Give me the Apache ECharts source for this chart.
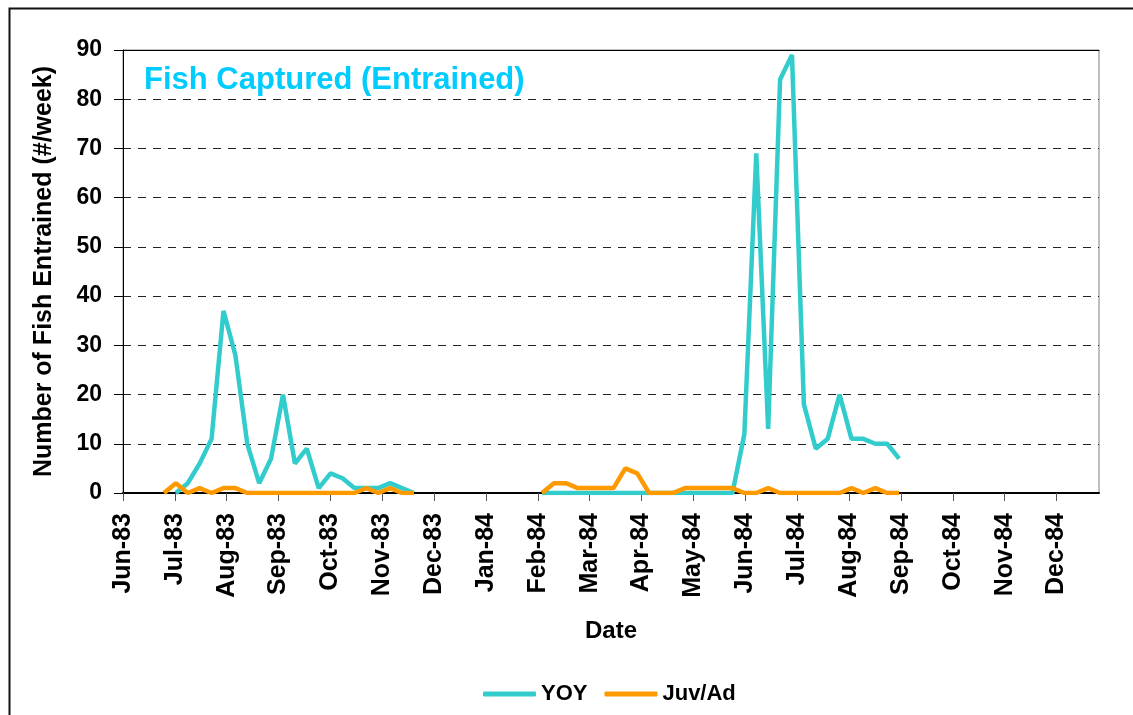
<!DOCTYPE html>
<html>
<head>
<meta charset="utf-8">
<script src="https://cdn.jsdelivr.net/npm/echarts@6/dist/echarts.min.js"></script>
<style>
  html, body { margin: 0; padding: 0; background: #fff; }
  #chart { width: 1133px; height: 715px; }
</style>
</head>
<body>
<div id="chart"></div>
<script>
const monthLabels = ['Jun-83', 'Jul-83', 'Aug-83', 'Sep-83', 'Oct-83', 'Nov-83', 'Dec-83',
  'Jan-84', 'Feb-84', 'Mar-84', 'Apr-84', 'May-84', 'Jun-84', 'Jul-84', 'Aug-84',
  'Sep-84', 'Oct-84', 'Nov-84', 'Dec-84']

// first sampled week of each season, in months after Jun-83
const start83 = 0.79
const start84 = 8.08
const weekStep = 7 / 30.5

// 1983 season (YOY first reported one week after Juv/Ad)
const juv83 = [0, 2, 0, 1, 0, 1, 1, 0, 0, 0, 0, 0, 0, 0, 0, 0, 0, 1, 0, 1, 0, 0]
const yoy83 = [0, 2, 6, 11, 37, 28, 10, 2, 7, 20, 6, 9, 1, 4, 3, 1, 1, 1, 2, 1, 0]
// 1984 season
const juv84 = [0, 2, 2, 1, 1, 1, 1, 5, 4, 0, 0, 0, 1, 1, 1, 1, 1, 0, 0, 1, 0, 0, 0, 0, 0, 0, 1, 0, 1, 0, 0]
const yoy84 = [0, 0, 0, 0, 0, 0, 0, 0, 0, 0, 0, 0, 0, 0, 0, 0, 0, 12, 69, 13, 84, 89, 18, 9, 11, 20, 11, 11, 10, 10, 7]

const font = 'Liberation Sans, Arial, sans-serif'

function weeks(start, values, skip) {
  return values.map((v, i) => [start + (i + skip) * weekStep, v])
}

function seasons(a, b) {
  // '-' breaks the line between the two seasons
  return a.concat([[7, '-']], b)
}

const chart = echarts.init(document.getElementById('chart'))

chart.setOption({
  backgroundColor: '#fff',
  animation: false,
  textStyle: { fontFamily: font },
  title: {
    text: 'Fish Captured (Entrained)',
    left: 139,
    top: 60,
    textStyle: { color: '#00CCFF', fontSize: 31, fontWeight: 'bold', fontFamily: font }
  },
  legend: {
    left: 478,
    top: 678,
    icon: 'roundRect',
    itemWidth: 53,
    itemHeight: 5,
    itemGap: 17,
    textStyle: { color: '#000', fontSize: 22, fontWeight: 'bold', fontFamily: font },
    data: ['YOY', 'Juv/Ad']
  },
  grid: {
    left: 123,
    top: 50,
    width: 976,
    height: 443,
    show: true,
    borderColor: '#808080',
    borderWidth: 1
  },
  graphic: [{
    type: 'rect',
    left: 7,
    top: 6,
    shape: { x: 0, y: 0, width: 1140, height: 720 },
    style: { fill: 'none', stroke: '#111', lineWidth: 2 },
    silent: true
  }],
  xAxis: [{
    type: 'value',
    min: 0,
    max: 18.82,
    name: 'Date',
    nameLocation: 'middle',
    nameGap: 126,
    nameTextStyle: { color: '#000', fontSize: 24, fontWeight: 'bold', fontFamily: font },
    axisLine: { lineStyle: { color: '#000', width: 2 } },
    axisTick: {
      show: true,
      length: 8,
      customValues: monthLabels.map((m, i) => i),
      lineStyle: { color: '#555' }
    },
    axisLabel: {
      rotate: 90,
      margin: 20,
      color: '#000',
      fontSize: 25,
      fontWeight: 'bold',
      fontFamily: font,
      customValues: monthLabels.map((m, i) => i),
      formatter: v => monthLabels[Math.round(v)] || ''
    },
    splitLine: { show: false }
  }, {
    type: 'value',
    position: 'top',
    min: 0,
    max: 18.82,
    axisLine: { show: true, lineStyle: { color: '#000', width: 1 } },
    axisTick: { show: false },
    axisLabel: { show: false },
    splitLine: { show: false }
  }],
  yAxis: {
    type: 'value',
    min: 0,
    max: 90,
    interval: 10,
    name: 'Number of Fish Entrained (#/week)',
    nameLocation: 'middle',
    nameGap: 66,
    nameTextStyle: { color: '#000', fontSize: 25, fontWeight: 'bold', fontFamily: font },
    axisLine: { show: true, lineStyle: { color: '#000', width: 1 } },
    axisTick: { show: true, length: 9, lineStyle: { color: '#000' } },
    axisLabel: { margin: 21, color: '#000', fontSize: 23, fontWeight: 'bold', fontFamily: font },
    splitLine: { show: true, lineStyle: { color: '#222', width: 1, type: [8, 7] } }
  },
  series: [{
    name: 'YOY',
    type: 'line',
    symbol: 'none',
    lineStyle: { color: '#33CCCC', width: 4.5 },
    itemStyle: { color: '#33CCCC' },
    data: seasons(weeks(start83, yoy83, 1), weeks(start84, yoy84, 0))
  }, {
    name: 'Juv/Ad',
    type: 'line',
    symbol: 'none',
    lineStyle: { color: '#FF9900', width: 4.5 },
    itemStyle: { color: '#FF9900' },
    data: seasons(weeks(start83, juv83, 0), weeks(start84, juv84, 0))
  }]
})
</script>
</body>
</html>
